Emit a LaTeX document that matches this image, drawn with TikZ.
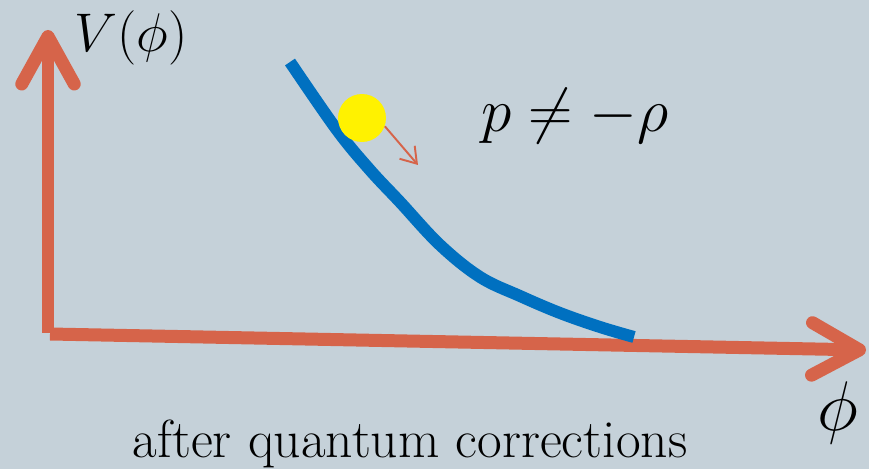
\RequirePackage{fix-cm}
\documentclass[tikz,border=0pt]{standalone}
\usepackage{fontspec}
\usetikzlibrary{arrows.meta}
\definecolor{bgslate}{RGB}{197,209,217}
\definecolor{axisred}{RGB}{214,100,74}
\definecolor{curveblue}{RGB}{0,112,192}
\begin{document}
\begin{tikzpicture}[
    x=0.02cm, y=-0.02cm,
    axis/.style={line width=0.26cm, axisred, -{Straight Barb[length=0.95cm, width=1.05cm, round]}},
    potential/.style={line width=0.24cm, curveblue},
    ball/.style={circle, fill=yellow, minimum size=0.96cm, inner sep=0pt},
    push/.style={line width=1.1pt, axisred, -{Straight Barb[length=0.3cm, width=0.4cm]}},
    mathlabel/.style={inner sep=0pt, font=\fontsize{31}{36}\selectfont}
]
    \useasboundingbox (0,0) rectangle (869,469);
    \fill[bgslate] (0,0) rectangle (869,469);

    \coordinate (origin) at (48,333);
    \coordinate (ytip) at (48,30);
    \coordinate (xstart) at (50,334);
    \coordinate (xtip) at (866,350);
    \draw[axis] (origin) -- (ytip);
    \draw[axis] (xstart) -- (xtip);

    \draw[potential] plot[smooth, tension=0.6] coordinates {(290,62) (337,130) (370,170) (400,202) (440,245) (480,277) (520,296) (560,313) (600,327) (634,337)};

    \node[ball] (ball) at (362,118) {};
    \coordinate (kick) at (418,165);
    \draw[push] (ball.-20) -- (kick);

    \node[mathlabel] (vlabel) at (131,38) {$V(\phi)$};
    \node[mathlabel, font=\fontsize{35}{40}\selectfont] (eos) at (575,116) {$p\neq-\rho$};
    \node[mathlabel, font=\fontsize{40}{46}\selectfont] (philabel) at (838,413) {$\phi$};
    \node[inner sep=0pt, anchor=base, font=\fontsize{30.5}{35}\selectfont] (caption) at (410,458) {after quantum corrections};
\end{tikzpicture}
\end{document}
